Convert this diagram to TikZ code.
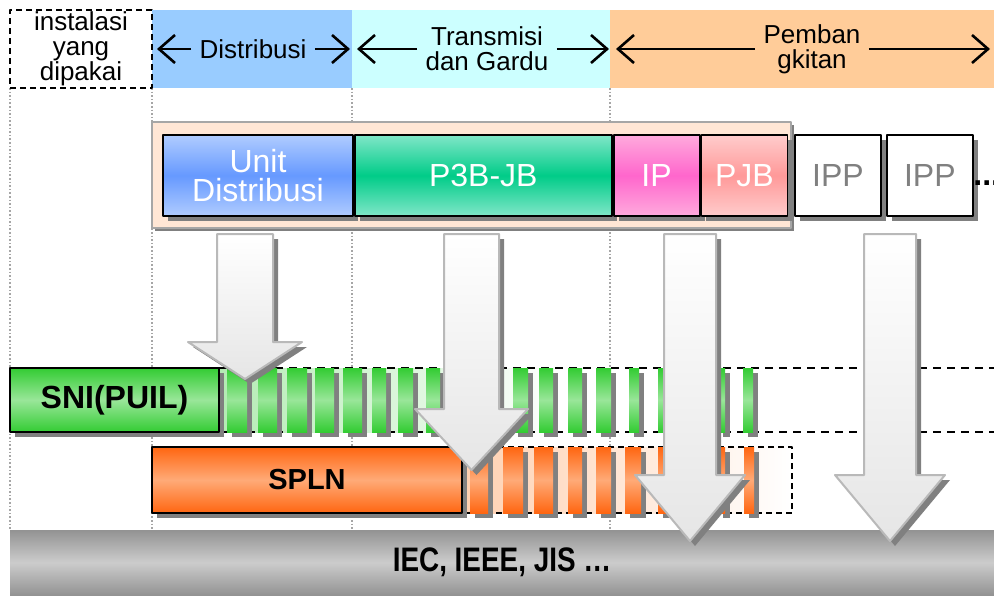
\documentclass[tikz,border=0pt]{standalone}
\usepackage{fontspec}
\setmainfont{Liberation Sans}
\newfontfamily\stdfont[FakeStretch=0.82]{Liberation Sans}
\usetikzlibrary{arrows.meta,shadows,positioning}
\definecolor{bandblue}{HTML}{99CCFF}
\definecolor{bandcyan}{HTML}{CCFFFF}
\definecolor{bandorange}{HTML}{FFCC99}
\definecolor{peach}{HTML}{FFE6D5}
\definecolor{unitL}{HTML}{B0CCFF}
\definecolor{unitD}{HTML}{6699FF}
\definecolor{pbL}{HTML}{80E6C8}
\definecolor{pbD}{HTML}{00CC88}
\definecolor{ipL}{HTML}{FFAADD}
\definecolor{ipD}{HTML}{FF66CC}
\definecolor{pjbL}{HTML}{FFCCCC}
\definecolor{pjbD}{HTML}{FF9999}
\definecolor{sniD}{HTML}{33CC33}
\definecolor{sniL}{HTML}{99E699}
\definecolor{sniBg}{HTML}{B3EBB3}
\definecolor{splnD}{HTML}{FF6611}
\definecolor{splnL}{HTML}{FFAA77}
\definecolor{splnBg}{HTML}{FFD0B0}
\tikzset{
  boxshadow/.style={drop shadow={shadow xshift=2.5pt,shadow yshift=-2.5pt,fill=gray,opacity=1}},
  vshade/.style 2 args={top color=#1,bottom color=#1,middle color=#2},
  orgbox/.style={draw=black,line width=0.9pt,inner sep=0pt,text=white,boxshadow,
    font=\fontsize{16}{14.5}\selectfont,align=center,minimum height=40.5pt},
  ippbox/.style={draw=black,fill=white,line width=0.9pt,inner sep=0pt,text=gray,boxshadow,
    font=\fontsize{16}{14.5}\selectfont,minimum width=43pt,minimum height=40.5pt},
  hdrtext/.style={font=\fontsize{13}{12.5}\selectfont,align=center,inner sep=4pt},
  hdrarrow/.style={-{Straight Barb[length=8pt,width=14pt]},line width=1.3pt},
  stdbox/.style={draw=black,line width=0.9pt,inner sep=0pt,boxshadow,
    font=\bfseries\fontsize{16}{16}\selectfont},
  zone/.style={draw=gray!70,densely dotted,line width=0.8pt},
  bigarrow/.style={draw=gray!55,line width=1pt,top color=white,bottom color=gray!20,boxshadow},
}
\begin{document}
\begin{tikzpicture}[x=0.5pt,y=-0.5pt,line join=round]
  \useasboundingbox (0,0) rectangle (994,595);
  % batas wilayah
  \foreach \x in {10,152,352,610}
    \draw[zone] (\x,88) -- (\x,530);
  % judul kolom
  \fill[bandblue] (152,10) rectangle (352,88);
  \fill[bandcyan] (352,10) rectangle (610,88);
  \fill[bandorange] (610,10) rectangle (1000,88);
  \node[hdrtext,draw,dash pattern=on 3pt off 2pt,line width=1pt,minimum width=71pt,
    minimum height=39pt,inner sep=0pt] (inst) at (81,49) {instalasi\\yang\\dipakai};
  \coordinate (dist-l) at (157,49);
  \coordinate (dist-r) at (350,49);
  \node[hdrtext] (dist) at (253,49) {Distribusi};
  \draw[hdrarrow] (dist) -- (dist-l);
  \draw[hdrarrow] (dist) -- (dist-r);
  \coordinate (trans-l) at (357,49);
  \coordinate (trans-r) at (609,49);
  \node[hdrtext] (trans) at (487,49) {Transmisi\\dan Gardu};
  \draw[hdrarrow] (trans) -- (trans-l);
  \draw[hdrarrow] (trans) -- (trans-r);
  \coordinate (pemb-l) at (616,49);
  \coordinate (pemb-r) at (990,49);
  \node[hdrtext] (pemb) at (812,49) {Pemban\\gkitan};
  \draw[hdrarrow] (pemb) -- (pemb-l);
  \draw[hdrarrow] (pemb) -- (pemb-r);
  % pemilik instalasi
  \node[draw=gray!70,fill=peach,line width=1pt,minimum width=319.5pt,minimum height=53pt,
    drop shadow={shadow xshift=1.5pt,shadow yshift=-1.5pt,fill=gray,opacity=1}] (owner) at (471.5,175) {};
  \node[orgbox,minimum width=95pt,vshade={unitL}{unitD}] (unit) at (258,175.5) {Unit\\Distribusi};
  \node[orgbox,minimum width=128.5pt,vshade={pbL}{pbD},right=0pt of unit] (p3b) {P3B-JB};
  \node[orgbox,minimum width=43pt,vshade={ipL}{ipD},right=0pt of p3b] (ip) {IP};
  \node[orgbox,minimum width=43pt,vshade={pjbL}{pjbD},right=0pt of ip] (pjb) {PJB};
  \node[ippbox] (ipp1) at (838,175.5) {IPP};
  \node[ippbox,right=2pt of ipp1] (ipp2) {IPP};
  \node[anchor=west,inner sep=0pt,font=\bfseries\fontsize{16}{16}\selectfont] (more) at (973,183) {...};
  % SNI
  \shade[left color=sniBg,right color=white] (219,368) rectangle (560,432);
  \draw[line width=1pt,dash pattern=on 4pt off 3pt] (219,368) -- (994,368) (219,432) -- (994,432);
  \foreach \x/\w in {227/20,258/19,287/20,315/19,343/19,372/14,398/15,426/14,455/14,484/14,
      513/15,539/14,568/14,596/15,629/10,658/10,689/8,718/7,743/10}
    \fill[boxshadow,vshade={sniD}{sniL}] (\x,368) rectangle ++(\w,64);
  \node[stdbox,vshade={sniD}{sniL},minimum width=104.5pt,minimum height=32pt] (sni) at (114.5,400) {SNI(PUIL)};
  % SPLN
  \shade[left color=splnBg,right color=white] (462,447) rectangle (792,513);
  \draw[line width=0.8pt,dash pattern=on 3pt off 2pt] (462,447) rectangle (792,513);
  \foreach \x/\w in {470/18,503/20,534/19,568/14,596/15,625/16,658/16,689/10,718/7,744/10}
    \fill[boxshadow,vshade={splnD}{splnL}] (\x,447) rectangle ++(\w,66);
  \node[stdbox,vshade={splnD}{splnL},minimum width=155pt,minimum height=33pt,
    font=\bfseries\fontsize{14.5}{14.5}\selectfont] (spln) at (307,480) {SPLN};
  % standar internasional
  \node[vshade={gray!85}{gray!40},minimum width=492pt,minimum height=32.5pt,inner sep=0pt,
    font=\stdfont\bfseries\fontsize{17}{17}\selectfont] (std) at (502,562.5) {IEC, IEEE, JIS …};
  % panah acuan
  \foreach \xl/\xr/\yh/\yt in {217/273/342/379,444/499/409/470,664/716/475/541,864/916/475/541}
    \draw[bigarrow] (\xl,234) -- (\xr,234) -- (\xr,\yh) -- (\xr+29,\yh) -- ({(\xl+\xr)/2},\yt)
      -- (\xl-29,\yh) -- (\xl,\yh) -- cycle;
\end{tikzpicture}
\end{document}
